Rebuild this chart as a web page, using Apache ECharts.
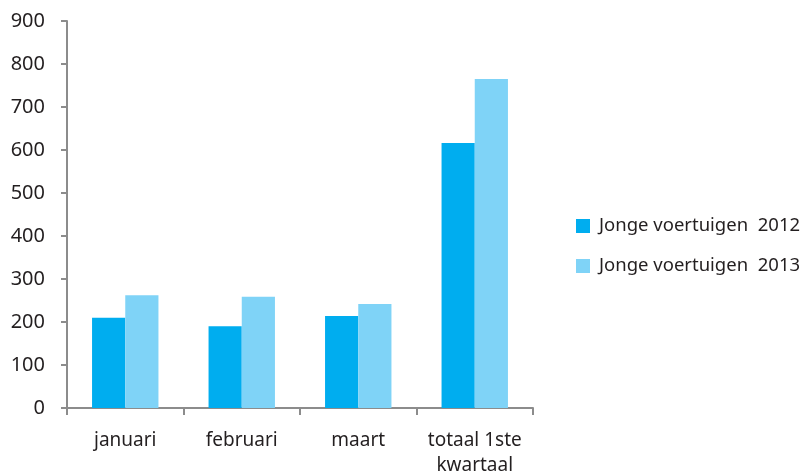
<!DOCTYPE html>
<html>
<head>
<meta charset="utf-8">
<script src="https://cdn.jsdelivr.net/npm/echarts@6/dist/echarts.min.js"></script>
<style>html,body{margin:0;padding:0;background:#fff}#c{width:807px;height:475px}</style>
</head>
<body>
<div id="c"></div>
<script>
const categories = ['januari', 'februari', 'maart', 'totaal 1ste\nkwartaal'];
const seriesNames = ['Jonge voertuigen  2012', 'Jonge voertuigen  2013'];
const values2012 = [210, 190, 214, 616];
const values2013 = [262, 259, 242, 765];
const yTicks = { min: 0, max: 900, interval: 100 };

const chart = echarts.init(document.getElementById('c'), null, { renderer: 'canvas' });
const font = 'Noto Sans';
const textColor = '#231f20';
const axisColor = '#8c8c8c';
chart.setOption({
  animation: false,
  backgroundColor: '#ffffff',
  grid: { left: 67, right: 274, top: 21, bottom: 67, containLabel: false, outerBoundsMode: 'none' },
  legend: {
    orient: 'vertical',
    left: 571,
    top: 210,
    itemWidth: 14,
    itemHeight: 14,
    itemGap: 18,
    icon: 'rect',
    data: seriesNames,
    textStyle: { fontFamily: font, fontSize: 18.5, color: textColor, padding: [0, 0, 0, 4], lineHeight: 22 }
  },
  xAxis: {
    type: 'category',
    data: categories,
    axisLine: { lineStyle: { color: axisColor, width: 2 } },
    axisTick: { show: true, length: 7, interval: 0, lineStyle: { color: axisColor, width: 2 } },
    axisLabel: { fontFamily: font, fontSize: 19, color: textColor, margin: 20, lineHeight: 25, interval: 0 },
    splitLine: { show: false }
  },
  yAxis: {
    type: 'value',
    min: yTicks.min,
    max: yTicks.max,
    interval: yTicks.interval,
    axisLine: { show: true, lineStyle: { color: axisColor, width: 2 } },
    axisTick: { show: true, length: 6, lineStyle: { color: axisColor, width: 2 } },
    axisLabel: { fontFamily: font, fontSize: 20, color: textColor, margin: 22 },
    splitLine: { show: false }
  },
  series: [
    { name: seriesNames[0], type: 'bar', data: values2012, barGap: '0%', barCategoryGap: '43%',
      itemStyle: { color: '#00adef' } },
    { name: seriesNames[1], type: 'bar', data: values2013, barGap: '0%', barCategoryGap: '43%',
      itemStyle: { color: '#7fd3f7' } }
  ]
});
</script>
</body>
</html>
